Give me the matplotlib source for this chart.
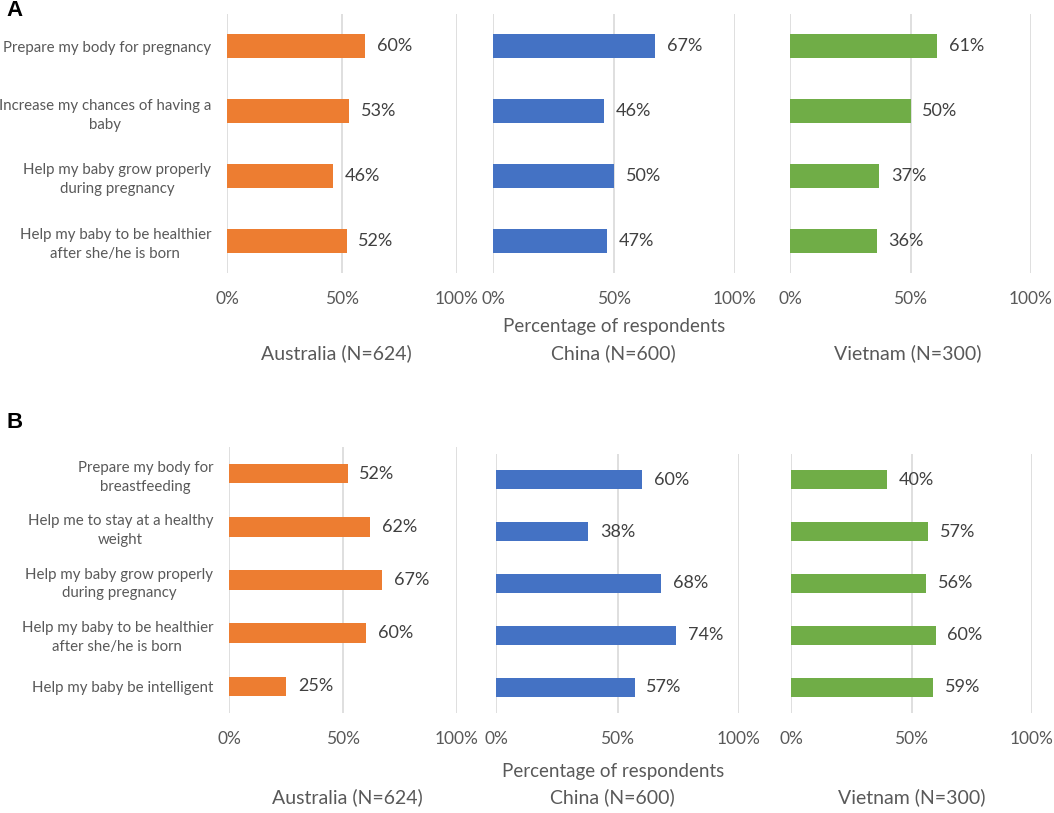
import matplotlib
matplotlib.use("Agg")
import matplotlib.pyplot as plt

# ---- data ----
cats_a = ["Prepare my body for pregnancy",
          "Increase my chances of having a\nbaby",
          "Help my baby grow properly\nduring pregnancy",
          "Help my baby to be healthier\nafter she/he is born"]
cats_b = ["Prepare my body for\nbreastfeeding",
          "Help me to stay at a healthy\nweight",
          "Help my baby grow properly\nduring pregnancy",
          "Help my baby to be healthier\nafter she/he is born",
          "Help my baby be intelligent"]

countries = ["Australia (N=624)", "China (N=600)", "Vietnam (N=300)"]

a_australia = [60, 53, 46, 52]
a_china = [67, 46, 50, 47]
a_vietnam = [61, 50, 37, 36]

b_australia = [52, 62, 67, 60, 25]
b_china = [60, 38, 68, 74, 57]
b_vietnam = [40, 57, 56, 60, 59]

colors = ["#ED7D31", "#4472C4", "#70AD47"]
ticks = [0, 50, 100]
tick_labels = ["0%", "50%", "100%"]

W, H = 1054, 813
FONT = "Lato"
TXT = "#595959"

fig = plt.figure(figsize=(W / 100, H / 100), dpi=100)


def px_axes(x0, x1, y0, y1):
    # pixel box (top-left origin) -> figure axes
    return fig.add_axes([x0 / W, 1 - y1 / H, (x1 - x0) / W, (y1 - y0) / H])


def panel(ax, values, color, cats, show_cats):
    n = len(values)
    y = list(range(n))
    ax.barh(y, values, height=0.37, color=color, zorder=3)
    for yi, v in zip(y, values):
        ax.annotate(f"{v}%", (v, yi), xytext=(8.5, 0), textcoords="offset points",
                    va="center", ha="left", fontsize=13, color="#404040",
                    family=FONT)
    ax.set_xlim(0, 100)
    ax.set_ylim(n - 0.5, -0.5)
    ax.set_xticks(ticks)
    ax.set_xticklabels(tick_labels, fontsize=12.5, color=TXT, family=FONT)
    for x in ticks:
        ax.axvline(x, color="#D9D9D9", lw=1.2, zorder=1)
    ax.tick_params(axis="x", length=0, pad=13)
    ax.tick_params(axis="y", length=0, pad=11.5)
    for s in ax.spines.values():
        s.set_visible(False)
    ax.set_yticks(y)
    if show_cats:
        ax.set_yticklabels(cats, fontsize=10.8, color=TXT, family=FONT,
                           linespacing=1.45)
        for t in ax.get_yticklabels():
            t.set_multialignment("center")
    else:
        ax.set_yticklabels([])


# panel A
boxes_a = [(227, 457, 14, 273), (493, 735, 14, 273), (790, 1031, 14, 273)]
vals_a = [a_australia, a_china, a_vietnam]
for i, (box, vals) in enumerate(zip(boxes_a, vals_a)):
    ax = px_axes(*box)
    panel(ax, vals, colors[i], cats_a, i == 0)

# panel B
boxes_b = [(229, 457, 447, 713), (496, 739, 454, 713), (791, 1032, 454, 713)]
vals_b = [b_australia, b_china, b_vietnam]
for i, (box, vals) in enumerate(zip(boxes_b, vals_b)):
    ax = px_axes(*box)
    panel(ax, vals, colors[i], cats_b, i == 0)

# country labels and axis titles
label_x_a = [336, 613, 908]
label_x_b = [347, 612, 912]
for name, xa, xb in zip(countries, label_x_a, label_x_b):
    fig.text(xa / W, 1 - 353 / H, name, ha="center", va="center",
             fontsize=14, color=TXT, family=FONT)
    fig.text(xb / W, 1 - 797 / H, name, ha="center", va="center",
             fontsize=14, color=TXT, family=FONT)
fig.text(614 / W, 1 - 326 / H, "Percentage of respondents", ha="center",
         va="center", fontsize=13.5, color=TXT, family=FONT)
fig.text(613 / W, 1 - 771 / H, "Percentage of respondents", ha="center",
         va="center", fontsize=13.5, color=TXT, family=FONT)

fig.text(6 / W, 1 - 10 / H, "A", ha="left", va="center", fontsize=16,
         fontweight="bold", family="Liberation Sans", color="black")
fig.text(6 / W, 1 - 422 / H, "B", ha="left", va="center", fontsize=16,
         fontweight="bold", family="Liberation Sans", color="black")

fig.savefig("out.png", dpi=100, facecolor="white")
